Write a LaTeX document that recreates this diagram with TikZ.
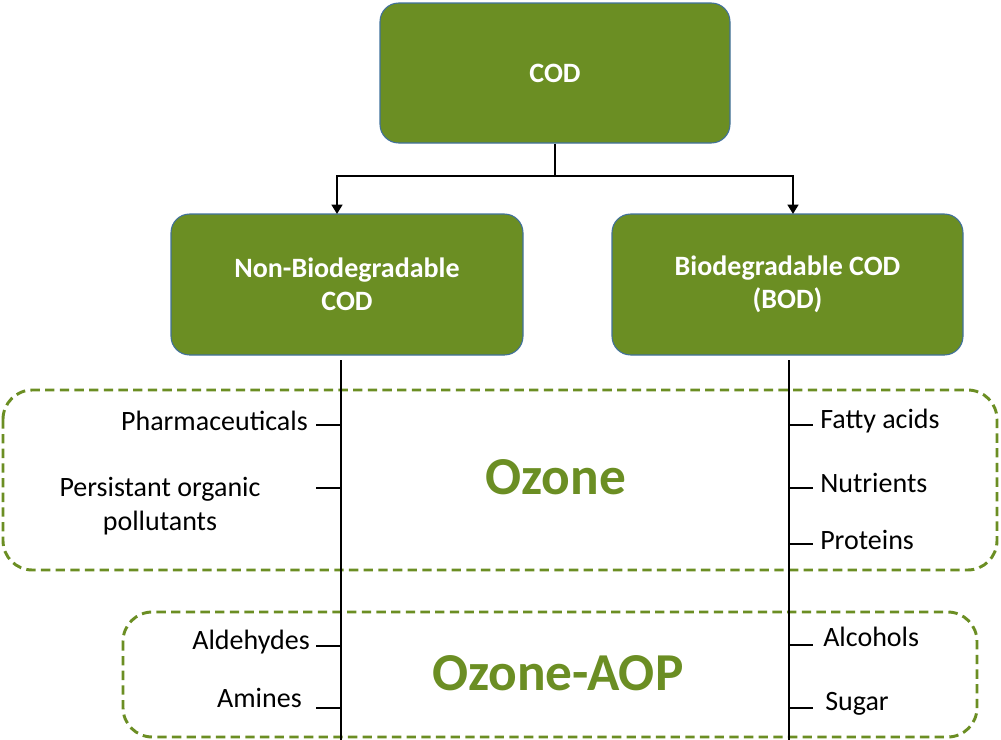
\documentclass[tikz,border=0pt]{standalone}
\usepackage{fontspec}
\setmainfont{Carlito}
\usetikzlibrary{arrows.meta}
\definecolor{olive}{HTML}{6B8E23}
\definecolor{bord}{HTML}{41719C}
\begin{document}
\begin{tikzpicture}[x=0.75pt,y=-0.75pt,
  box/.style={draw=bord,line width=0.8pt,fill=olive,rounded corners=14pt,text=white,font=\fontsize{21}{25}\selectfont\bfseries,align=center},
  dbox/.style={draw=olive,line width=2.2pt,dash pattern=on 7pt off 4pt,rounded corners=22pt},
  lbl/.style={font=\fontsize{21}{25}\selectfont,inner sep=0pt},
  big/.style={font=\fontsize{40}{46}\selectfont\bfseries,text=olive},
  ln/.style={line width=2.2pt},
  arr/.style={ln,-{Triangle[length=7pt,width=8pt]}}]
\useasboundingbox (0,0) rectangle (1001,740);
\node[box,minimum width=350*0.75pt,minimum height=140*0.75pt] (cod) at (555,73) {COD};
\node[box,minimum width=352*0.75pt,minimum height=141*0.75pt] (nb) at (347,284.5) {Non-Biodegradable\\COD};
\node[box,minimum width=351*0.75pt,minimum height=141*0.75pt] (bd) at (787.5,284.5) {Biodegradable COD\\(BOD)};
\draw[dbox] (3,390) rectangle (997,570);
\draw[dbox] (123,612) rectangle (977,737);
\coordinate (j) at (555,176);
\coordinate (jl) at (337,176);
\coordinate (jr) at (793,176);
\draw[ln] (cod.south) -- (j);
\draw[arr] (j) -- (jl) -- (337,214);
\draw[arr] (j) -- (jr) -- (793,214);
\coordinate (lt) at (341,360); \coordinate (lb) at (341,740);
\coordinate (rt) at (789,360); \coordinate (rb) at (789,740);
\draw[ln] (lt) -- (lb);
\draw[ln] (rt) -- (rb);
\foreach \y in {425,488,646,708} \draw[ln] (316,\y) -- (341,\y);
\foreach \y in {425,488,544,645,708} \draw[ln] (789,\y) -- (813,\y);
\node[lbl,anchor=east] (p1) at (308,421) {Pharmaceuticals};
\node[lbl,align=center] (p2) at (160,506) {Persistant organic\\pollutants};
\node[lbl,anchor=east] (p3) at (310,642) {Aldehydes};
\node[lbl,anchor=east] (p4) at (302,698) {Amines};
\node[lbl,anchor=west] (q1) at (820,421) {Fatty acids};
\node[lbl,anchor=west] (q2) at (820,483) {Nutrients};
\node[lbl,anchor=west] (q3) at (820,540) {Proteins};
\node[lbl,anchor=west] (q4) at (823,637) {Alcohols};
\node[lbl,anchor=west] (q5) at (825,704) {Sugar};
\node[big] (oz) at (556,477) {Ozone};
\node[big] (oa) at (558,673) {Ozone-AOP};
\end{tikzpicture}
\end{document}
